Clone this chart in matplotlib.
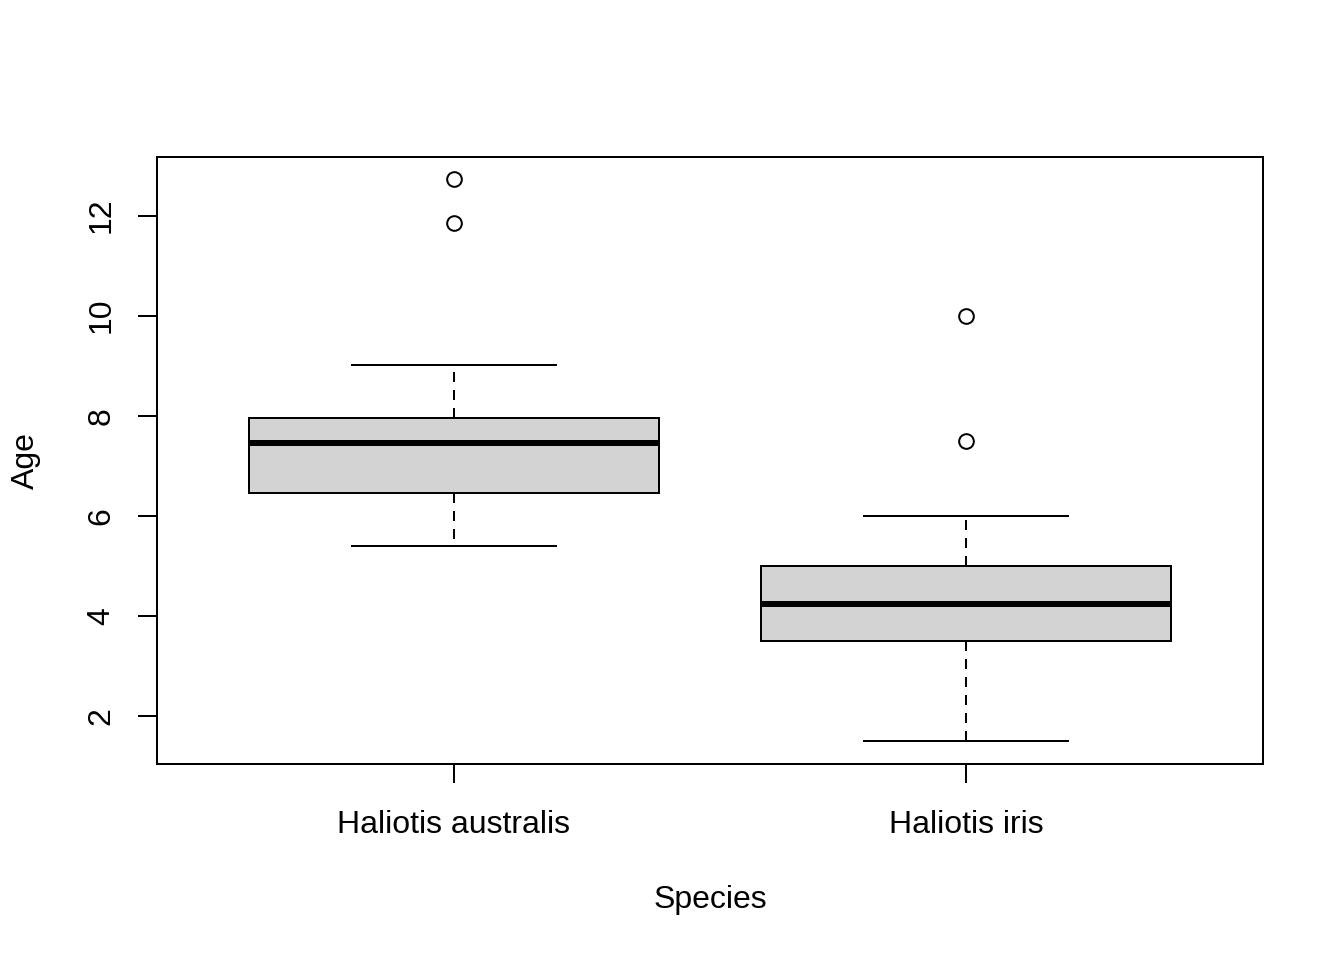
import matplotlib
matplotlib.use("Agg")
import matplotlib.pyplot as plt

plt.rcParams['font.family'] = ['Liberation Sans', 'DejaVu Sans']

# values
species = ["Haliotis australis", "Haliotis iris"]
whisker_low = [5.4, 1.5]
q1 = [6.46, 3.5]
medians = [7.46, 4.25]
q3 = [7.96, 5.0]
whisker_high = [9.02, 6.0]
outliers = [[12.72, 11.86], [10.0, 7.5]]

stats = []
for i in range(len(species)):
    stats.append({
        "label": species[i],
        "whislo": whisker_low[i],
        "q1": q1[i],
        "med": medians[i],
        "q3": q3[i],
        "whishi": whisker_high[i],
        "fliers": outliers[i],
    })

fig = plt.figure(figsize=(7, 5), dpi=192)
ax = fig.add_axes([0.1168, 0.2042, 0.8229, 0.6323])

ax.bxp(stats, positions=[1, 2], widths=0.8, patch_artist=True,
       boxprops=dict(facecolor="#d3d3d3", edgecolor="black", linewidth=0.75),
       medianprops=dict(color="black", linewidth=2.25, solid_capstyle="butt"),
       whiskerprops=dict(color="black", linewidth=0.75, linestyle=(0, (5, 4))),
       capprops=dict(color="black", linewidth=0.75),
       capwidths=0.4,
       flierprops=dict(marker="o", markerfacecolor="none", markeredgecolor="black",
                       markersize=5.5, markeredgewidth=0.75))

ax.set_xlim(0.42, 2.58)
ax.set_ylim(1.05, 13.17)
ax.set_yticks([2, 4, 6, 8, 10, 12])
ax.set_xticks([1, 2])
ax.set_xticklabels(species)

for s in ax.spines.values():
    s.set_linewidth(0.75)

ax.tick_params(axis="both", direction="out", length=7.2, width=0.75, labelsize=12, pad=8)
ax.tick_params(axis="x", pad=10)
for lab in ax.get_yticklabels():
    lab.set_rotation(90)
    lab.set_va("center")

ax.set_xlabel("Species", fontsize=12, labelpad=17)
ax.set_ylabel("Age", fontsize=12, labelpad=17)

fig.savefig("out.png", dpi=192)
